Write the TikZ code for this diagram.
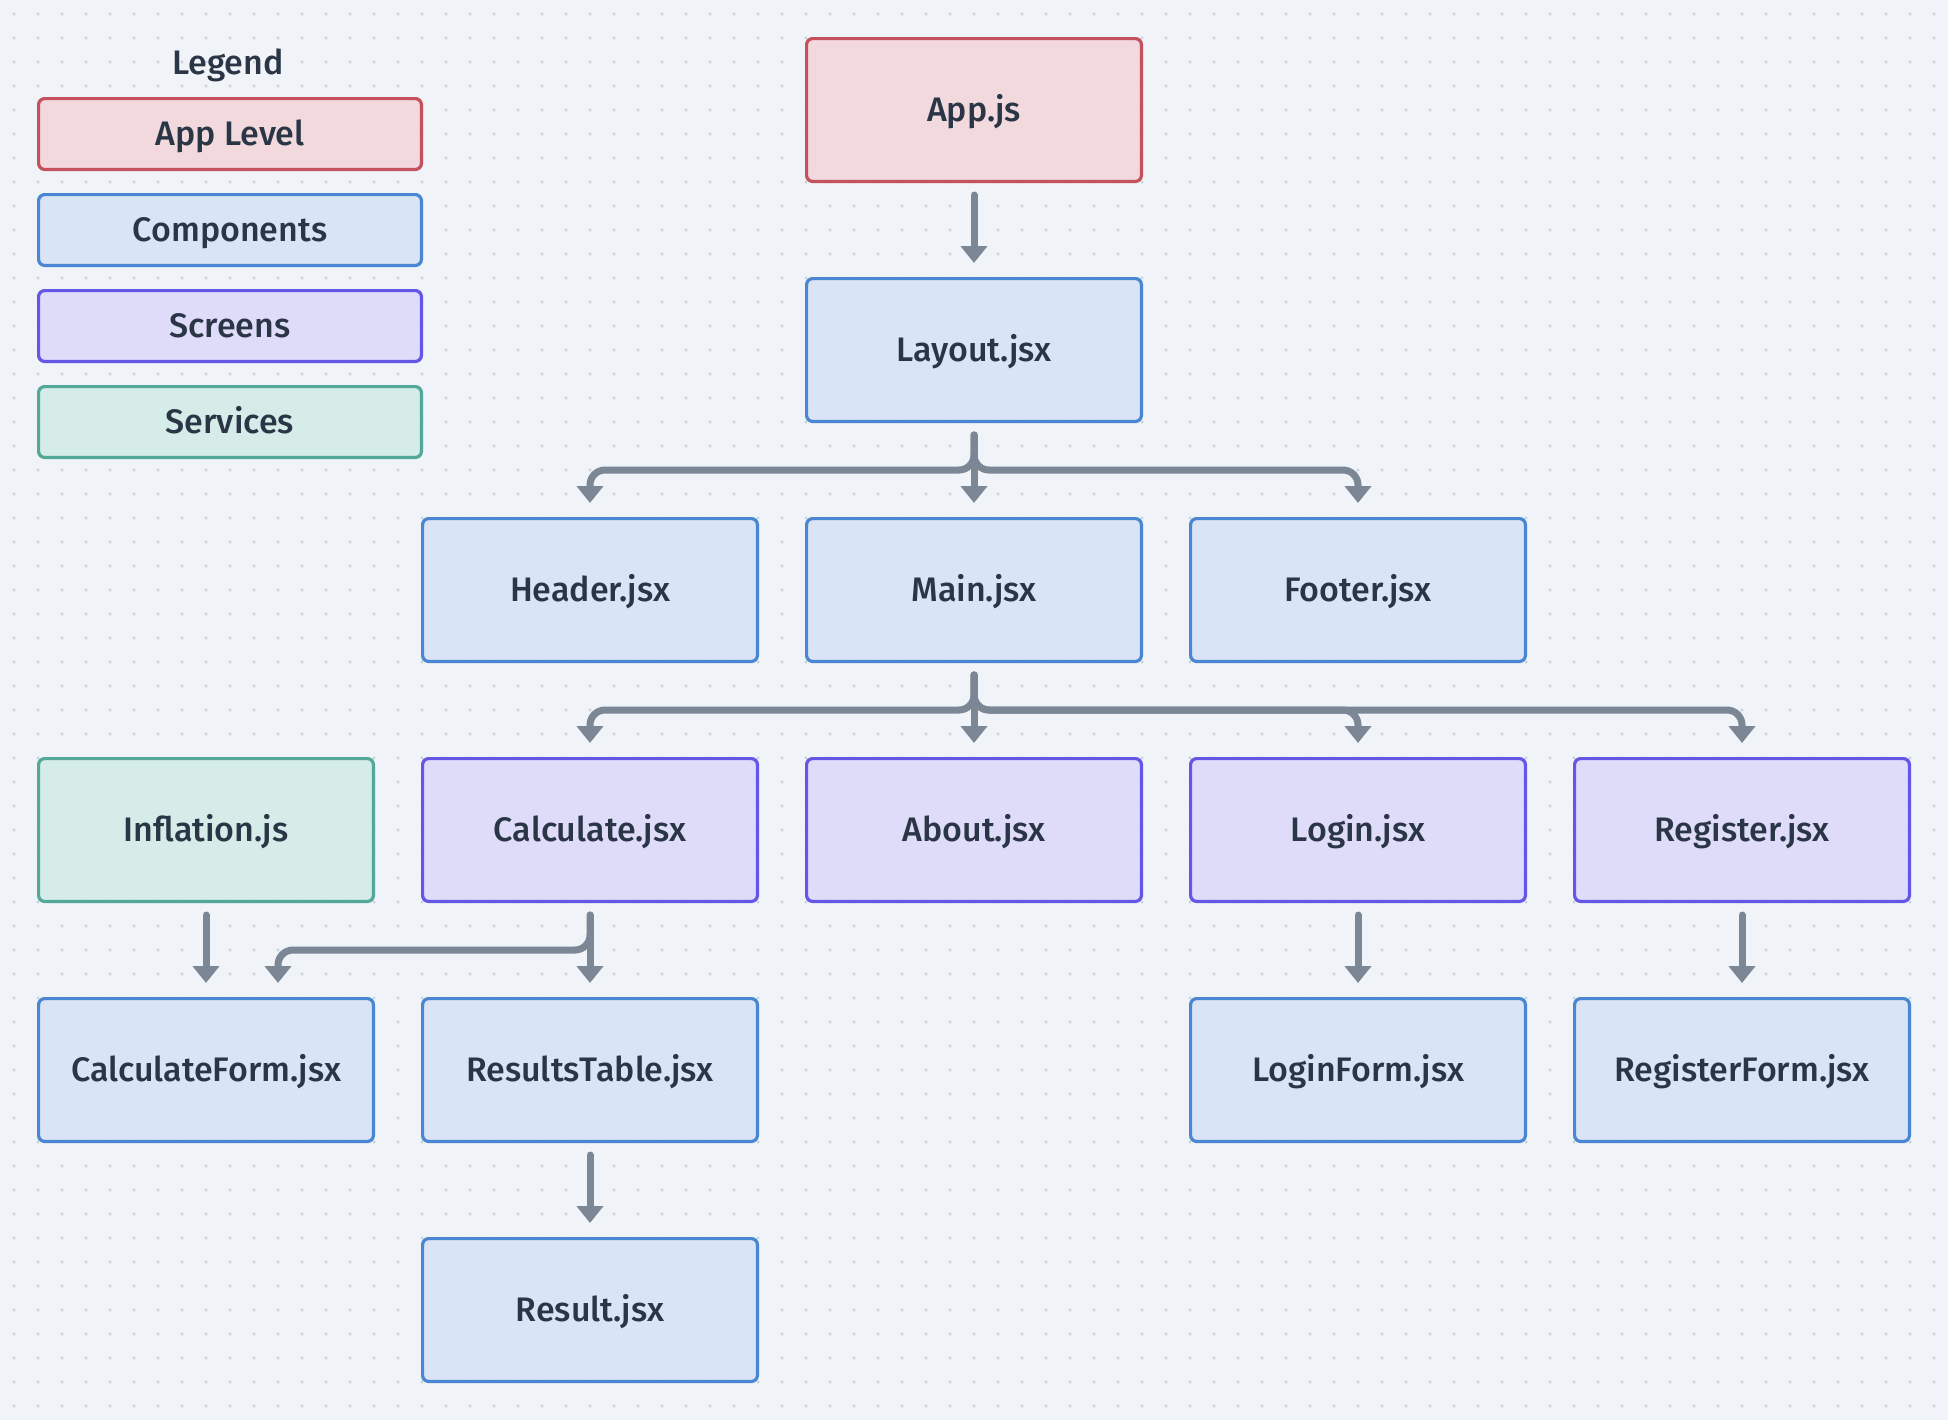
\documentclass[tikz,border=0pt]{standalone}
\usepackage{fontspec}
\setmainfont{Fira Sans}[UprightFont={* Medium}]
\usetikzlibrary{arrows.meta,positioning}
\definecolor{bgpaper}{HTML}{F0F3F7}
\definecolor{griddot}{HTML}{C9D1DC}
\definecolor{inkdark}{HTML}{2A3646}
\definecolor{wire}{HTML}{7B8794}
\definecolor{appline}{HTML}{C5515F}
\definecolor{appfill}{HTML}{F2D9DD}
\definecolor{compline}{HTML}{4A86D3}
\definecolor{compfill}{HTML}{D9E5F4}
\definecolor{scrline}{HTML}{6457E6}
\definecolor{scrfill}{HTML}{DFDCF9}
\definecolor{svcline}{HTML}{52A899}
\definecolor{svcfill}{HTML}{D6ECE8}

\begin{document}
\begin{tikzpicture}[
    >={Triangle[width=13pt,length=8.5pt]},
    file/.style={draw, line width=1.6pt, rounded corners=3pt,
                 minimum width=167.4pt, minimum height=71.4pt,
                 text height=11.7pt, text depth=0pt,
                 font=\fontsize{17}{20}\selectfont, text=inkdark},
    applvl/.style={file, draw=appline, fill=appfill},
    comp/.style={file, draw=compline, fill=compfill},
    scr/.style={file, draw=scrline, fill=scrfill},
    svc/.style={file, draw=svcline, fill=svcfill},
    key/.style={minimum width=191.4pt, minimum height=35.4pt},
    arr/.style={->, line width=3.5pt, wire, rounded corners=7.5pt, line cap=round},
  ]
  % --- paper ---
  \fill[bgpaper] (0,0) rectangle (974pt,-710pt);
  \useasboundingbox (0,0) rectangle (974pt,-710pt);
  \foreach \i in {0,...,80}{
    \foreach \j in {0,...,58}{
      \fill[griddot] (7pt+\i*12pt,-7pt-\j*12pt) circle (0.8pt);
    }
  }

  % --- legend ---
  \node[font=\fontsize{17}{20}\selectfont, text=inkdark, text height=11.7pt, text depth=0pt]
    (legtitle) at (114pt,-31.5pt) {Legend};
  \node[applvl, key] (kapp) at (115pt,-67pt) {App Level};
  \node[comp, key, below=11pt of kapp] (kcomp) {Components};
  \node[scr, key, below=11pt of kcomp] (kscr) {Screens};
  \node[svc, key, below=11pt of kscr] (ksvc) {Services};

  % --- boxes ---
  \node[applvl] (app) at (487pt,-55pt) {App.js};
  \node[comp, below=47pt of app] (layout) {Layout.jsx};
  \node[comp, below=47pt of layout] (main) {Main.jsx};
  \node[comp, left=23pt of main] (header) {Header.jsx};
  \node[comp, right=23pt of main] (footer) {Footer.jsx};
  \node[scr, below=47pt of main] (about) {About.jsx};
  \node[scr, below=47pt of header] (calc) {Calculate.jsx};
  \node[scr, below=47pt of footer] (login) {Login.jsx};
  \node[svc, left=23pt of calc] (infl) {Inflation.js};
  \node[scr, right=23pt of login] (reg) {Register.jsx};
  \node[comp, below=47pt of infl] (cform) {CalculateForm.jsx};
  \node[comp, below=47pt of calc] (rtable) {ResultsTable.jsx};
  \node[comp, below=47pt of rtable] (result) {Result.jsx};
  \node[comp, below=47pt of login] (lform) {LoginForm.jsx};
  \node[comp, below=47pt of reg] (rform) {RegisterForm.jsx};

  % --- arrows ---
  \draw[arr] ([yshift=-6pt]app.south) -- ([yshift=7pt]layout.north);
  \draw[arr] ([yshift=-6pt]layout.south) -- ([yshift=-23.5pt]layout.south) -| ([yshift=7pt]header.north);
  \draw[arr] ([yshift=-6pt]layout.south) -- ([yshift=7pt]main.north);
  \draw[arr] ([yshift=-6pt]layout.south) -- ([yshift=-23.5pt]layout.south) -| ([yshift=7pt]footer.north);

  \draw[arr] ([yshift=-6pt]main.south) -- ([yshift=-23.5pt]main.south) -| ([yshift=7pt]calc.north);
  \draw[arr] ([yshift=-6pt]main.south) -- ([yshift=7pt]about.north);
  \draw[arr] ([yshift=-6pt]main.south) -- ([yshift=-23.5pt]main.south) -| ([yshift=7pt]login.north);
  \draw[arr] ([yshift=-6pt]main.south) -- ([yshift=-23.5pt]main.south) -| ([yshift=7pt]reg.north);

  \draw[arr] ([yshift=-6pt]infl.south) -- ([yshift=7pt]cform.north);
  \draw[arr] ([yshift=-6pt]calc.south) -- ([yshift=-23.5pt]calc.south) -| ([xshift=36pt,yshift=7pt]cform.north);
  \draw[arr] ([yshift=-6pt]calc.south) -- ([yshift=7pt]rtable.north);
  \draw[arr] ([yshift=-6pt]rtable.south) -- ([yshift=7pt]result.north);
  \draw[arr] ([yshift=-6pt]login.south) -- ([yshift=7pt]lform.north);
  \draw[arr] ([yshift=-6pt]reg.south) -- ([yshift=7pt]rform.north);
\end{tikzpicture}
\end{document}
